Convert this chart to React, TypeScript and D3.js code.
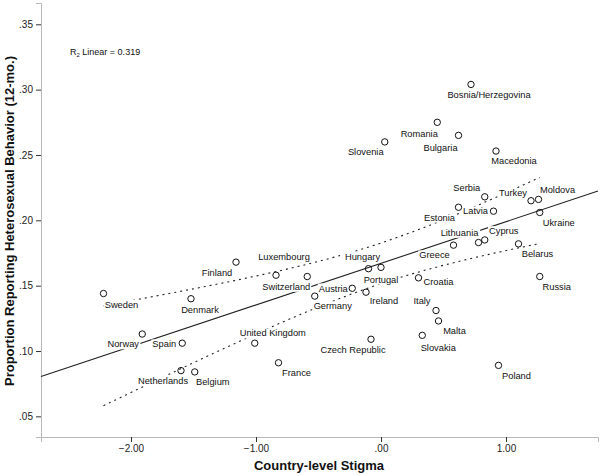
import React, { useEffect, useRef } from 'react'
import * as d3 from 'd3'

const WIDTH = 600
const HEIGHT = 476

const countries = [
  'Sweden', 'Denmark', 'Finland', 'Luxembourg', 'Switzerland', 'Germany', 'Austria', 'Ireland',
  'Hungary', 'Portugal', 'United Kingdom', 'Czech Republic', 'France', 'Belgium', 'Netherlands',
  'Norway', 'Spain', 'Greece', 'Belarus', 'Croatia', 'Russia', 'Italy', 'Malta', 'Slovakia',
  'Poland', 'Bosnia/Herzegovina', 'Romania', 'Bulgaria', 'Slovenia', 'Macedonia', 'Serbia',
  'Turkey', 'Moldova', 'Estonia', 'Latvia', 'Ukraine', 'Lithuania', 'Cyprus',
]
const stigma = [
  -2.22, -1.52, -1.16, -0.84, -0.59, -0.53, -0.23, -0.12,
  -0.10, 0.00, -1.01, -0.08, -0.82, -1.49, -1.60,
  -1.91, -1.59, 0.58, 1.10, 0.30, 1.27, 0.44, 0.46, 0.33,
  0.94, 0.72, 0.45, 0.62, 0.03, 0.92, 0.83,
  1.20, 1.26, 0.62, 0.90, 1.27, 0.78, 0.83,
]
const proportion = [
  0.144, 0.140, 0.168, 0.158, 0.157, 0.142, 0.148, 0.145,
  0.163, 0.164, 0.106, 0.109, 0.091, 0.084, 0.085,
  0.113, 0.106, 0.181, 0.182, 0.156, 0.157, 0.131, 0.123, 0.112,
  0.089, 0.304, 0.275, 0.265, 0.260, 0.253, 0.218,
  0.215, 0.216, 0.210, 0.207, 0.206, 0.183, 0.185,
]

const xTicks = [-2, -1, 0, 1]
const yTicks = [0.05, 0.10, 0.15, 0.20, 0.25, 0.30, 0.35]
const R2_TEXT = 'Linear = 0.319'

// label offsets (px) from each point, same order as countries
const labelOffsets = [
  [18, 11], [9, 11], [-19, 11], [8, -18], [-21, 10], [18, 10], [-19, 0], [18, 9],
  [-6, -12], [0, 12], [18, -10], [-18, 10], [18, 10], [18, 10], [-18, 10],
  [-19, 10], [-18, 1], [-19, 10], [19, 10], [20, 4], [17, 10], [-14, -10], [16, 10], [16, 12],
  [18, 10], [18, 10], [-18, 11], [-18, 12], [-19, 10], [18, 10], [-18, -9],
  [-18, -8], [19, -10], [-19, 10], [-18, 0], [19, 10], [-19, -10], [19, -9],
]

const fmt = (v: number) => d3.format('.2f')(v).replace(/^0\./, '.').replace(/^-0\./, '-.')

export default function App() {
  const ref = useRef<SVGSVGElement>(null)

  useEffect(() => {
    const svg = d3.select(ref.current)
    svg.selectAll('*').remove()

    const x = d3.scaleLinear().domain([-2.72, 1.736]).range([41, 598])
    const y = d3.scaleLinear().domain([0.0342, 0.3663]).range([437, 3])

    const font = 'Liberation Sans, Arial, sans-serif'

    // axes
    const xAxis = svg.append('g')
      .attr('transform', 'translate(0,437)')
      .call(d3.axisBottom(x).tickValues(xTicks).tickFormat(fmt as any).tickSize(5).tickPadding(3))
    const yAxis = svg.append('g')
      .attr('transform', 'translate(41,0)')
      .call(d3.axisLeft(y).tickValues(yTicks).tickFormat(fmt as any).tickSize(5).tickPadding(3))
    for (const ax of [xAxis, yAxis]) {
      ax.select('.domain').attr('stroke', '#b8b8b8')
      ax.selectAll('.tick line').attr('stroke', '#333')
      ax.selectAll('.tick text').attr('fill', '#222').attr('font-size', 10).attr('font-family', font)
    }

    // regression + 95% mean CI
    const n = stigma.length
    const xm = d3.mean(stigma)!
    const ym = d3.mean(proportion)!
    const sxx = d3.sum(stigma, (v) => (v - xm) ** 2)
    const sxy = d3.sum(stigma, (v, i) => (v - xm) * (proportion[i] - ym))
    const b = sxy / sxx
    const a = ym - b * xm
    const sse = d3.sum(stigma, (v, i) => (proportion[i] - (a + b * v)) ** 2)
    const s = Math.sqrt(sse / (n - 2))
    const t = 2.028
    const fit = (v: number) => a + b * v
    const half = (v: number) => t * s * Math.sqrt(1 / n + (v - xm) ** 2 / sxx)

    const lines = svg.append('g')
    lines.append('line')
      .attr('x1', x(x.domain()[0])).attr('y1', y(fit(x.domain()[0])))
      .attr('x2', x(x.domain()[1])).attr('y2', y(fit(x.domain()[1])))
      .attr('stroke', '#222').attr('stroke-width', 1.1)

    const [xmin, xmax] = d3.extent(stigma) as [number, number]
    const xs = d3.range(0, 61).map((i) => xmin + (xmax - xmin) * i / 60)
    const curve = d3.line<number>().x((v) => x(v))
    for (const sign of [1, -1]) {
      lines.append('path')
        .attr('d', curve.y((v) => y(fit(v) + sign * half(v)))(xs))
        .attr('fill', 'none').attr('stroke', '#222').attr('stroke-width', 1.1)
        .attr('stroke-dasharray', '2,4')
    }

    // labels with white boxes
    const labels = svg.append('g')
    countries.forEach((name, i) => {
      const g = labels.append('g')
      const txt = g.append('text')
        .attr('x', x(stigma[i]) + labelOffsets[i][0])
        .attr('y', y(proportion[i]) + labelOffsets[i][1])
        .attr('dy', '0.35em')
        .attr('text-anchor', 'middle')
        .attr('font-size', 9.3)
        .attr('font-family', font)
        .attr('fill', '#111')
        .text(name)
      const bb = (txt.node() as SVGTextElement).getBBox()
      g.insert('rect', 'text')
        .attr('x', bb.x - 1).attr('y', bb.y)
        .attr('width', bb.width + 2).attr('height', bb.height)
        .attr('fill', 'white')
    })

    // points
    svg.append('g').selectAll('circle')
      .data(stigma)
      .enter()
      .append('circle')
      .attr('cx', (d) => x(d))
      .attr('cy', (d, i) => y(proportion[i]))
      .attr('r', 3.2)
      .attr('fill', 'none')
      .attr('stroke', '#111')
      .attr('stroke-width', 1)

    // R2 annotation
    const r2 = svg.append('text')
      .attr('x', 70).attr('y', 55)
      .attr('font-size', 9).attr('font-family', font).attr('fill', '#111')
    r2.append('tspan').text('R')
    r2.append('tspan').attr('font-size', 6).attr('dy', 2).text('2')
    r2.append('tspan').attr('dy', -2).text(' ' + R2_TEXT)

    // axis titles
    svg.append('text')
      .attr('x', 319).attr('y', 470)
      .attr('text-anchor', 'middle')
      .attr('font-size', 13).attr('font-weight', 'bold').attr('font-family', font).attr('fill', '#111')
      .text('Country-level Stigma')
    svg.append('text')
      .attr('transform', 'translate(14,221) rotate(-90)')
      .attr('text-anchor', 'middle')
      .attr('textLength', 330).attr('lengthAdjust', 'spacingAndGlyphs')
      .attr('font-size', 13).attr('font-weight', 'bold').attr('font-family', font).attr('fill', '#111')
      .text('Proportion Reporting Heterosexual Behavior (12-mo.)')
  }, [])

  return (
    <svg ref={ref} width={WIDTH} height={HEIGHT}
      style={{ position: 'absolute', left: 0, top: 0, background: 'white' }} />
  )
}
